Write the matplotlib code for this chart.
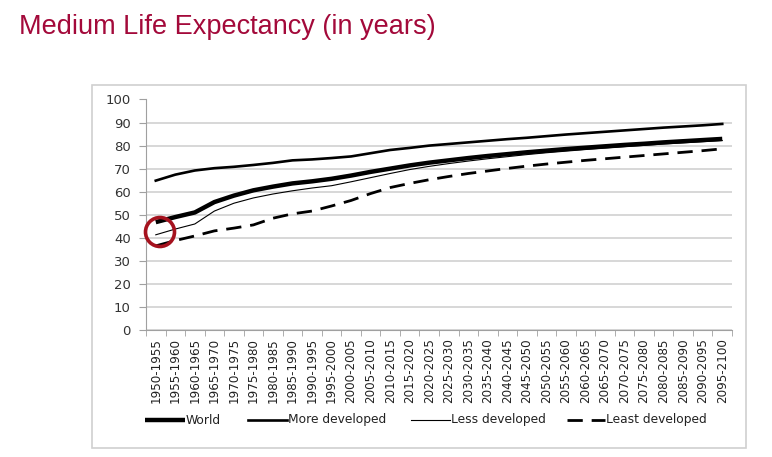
import matplotlib
matplotlib.use("Agg")
import matplotlib.pyplot as plt
from matplotlib.patches import Rectangle, Ellipse
from matplotlib.lines import Line2D
import numpy as np

periods = [f"{y}-{y+5}" for y in range(1950, 2100, 5)]

world = [46.8, 49.0, 51.0, 55.5, 58.3, 60.6, 62.2, 63.6, 64.5, 65.6,
         67.0, 68.6, 70.0, 71.4, 72.6, 73.6, 74.6, 75.5, 76.3, 77.1,
         77.8, 78.5, 79.1, 79.7, 80.3, 80.8, 81.4, 81.9, 82.4, 82.9]
more_dev = [64.8, 67.4, 69.2, 70.2, 70.8, 71.6, 72.5, 73.6, 74.0, 74.6,
            75.3, 76.7, 78.1, 79.0, 80.0, 80.7, 81.4, 82.1, 82.8, 83.4,
            84.1, 84.8, 85.4, 86.0, 86.6, 87.2, 87.8, 88.3, 88.8, 89.4]
less_dev = [41.3, 43.8, 46.0, 51.6, 55.0, 57.3, 59.0, 60.4, 61.6, 62.6,
            64.3, 66.1, 67.9, 69.6, 71.0, 72.2, 73.3, 74.3, 75.2, 76.1,
            76.9, 77.6, 78.3, 78.9, 79.5, 80.1, 80.7, 81.2, 81.7, 82.2]
least_dev = [36.5, 38.8, 40.8, 43.0, 44.2, 45.6, 48.5, 50.4, 51.6, 53.8,
             56.2, 59.2, 61.8, 63.6, 65.2, 66.6, 67.9, 69.0, 70.1, 71.1,
             72.0, 72.8, 73.6, 74.3, 75.0, 75.7, 76.4, 77.1, 77.8, 78.6]

series_names = ["World", "More developed", "Less developed", "Least developed"]
yticks = list(range(0, 101, 10))

fig = plt.figure(figsize=(7.72, 4.57), dpi=100)
W, H = 772, 457

def fx(px):
    return px / W

def fy(py):
    return 1 - py / H

# Title
fig.text(fx(19), fy(27), "Medium Life Expectancy (in years)", color="#A3093A",
         fontsize=19.5, family="Liberation Sans", va="center", ha="left")

# Chart frame
fig.patches.append(Rectangle((fx(92), fy(448)), fx(746) - fx(92), fy(85) - fy(448),
                             transform=fig.transFigure, fill=False,
                             edgecolor="#D0D0D0", linewidth=1.2, zorder=0))

ax = fig.add_axes([fx(146), fy(330), fx(732) - fx(146), fy(99.5) - fy(330)])
x = np.arange(len(periods))

styles = [dict(lw=3.2, solid_capstyle="butt"),
          dict(lw=1.9),
          dict(lw=0.8),
          dict(lw=2.0, dashes=(5.5, 3.2))]
data = [world, more_dev, less_dev, least_dev]
for vals, st, name, z in zip(data, styles, series_names, [4, 3, 3, 3]):
    ax.plot(x, vals, color="black", label=name, zorder=z, **st)

ax.set_xlim(-0.5, len(periods) - 0.5)
ax.set_ylim(0, 100)
ax.set_yticks(yticks)
ax.set_yticklabels([str(v) for v in yticks], family="DejaVu Sans", fontsize=9.5, color="#333333")
ax.yaxis.grid(True, color="#D4D4D4", lw=1.3)
ax.set_axisbelow(True)

ax.set_xticks(x)
ax.set_xticklabels(periods, rotation=90, family="DejaVu Sans", fontsize=8.6, color="#222222")
ax.set_xticks(np.arange(-0.5, len(periods), 1), minor=True)
ax.tick_params(axis="x", which="major", length=0, pad=6)
ax.tick_params(axis="x", which="minor", length=4, color="#A0A0A0", direction="out")
ax.tick_params(axis="y", length=5, color="#A0A0A0", pad=6)

for s in ["top", "right"]:
    ax.spines[s].set_visible(False)
ax.spines["left"].set_color("#A0A0A0")
ax.spines["bottom"].set_color("#A0A0A0")

# Red circle highlight
fig.patches.append(Ellipse((fx(160), fy(232)), 29 / W, 29 / H, transform=fig.transFigure,
                           fill=False, edgecolor="#A5121E", lw=2.6, zorder=10))

# Legend drawn manually in figure pixels
leg_y = fy(420)
leg_items = [(145, 185), (248, 287), (411, 450), (567, 605)]
for (x0, x1), st, name in zip(leg_items, styles, series_names):
    fig.add_artist(Line2D([fx(x0), fx(x1)], [leg_y, leg_y], transform=fig.transFigure,
                          color="black", **st))
    fig.text(fx(x1 + 1), leg_y, name, family="DejaVu Sans", fontsize=8.8,
             va="center", ha="left", color="#222222")

fig.savefig("out.png", dpi=100)
